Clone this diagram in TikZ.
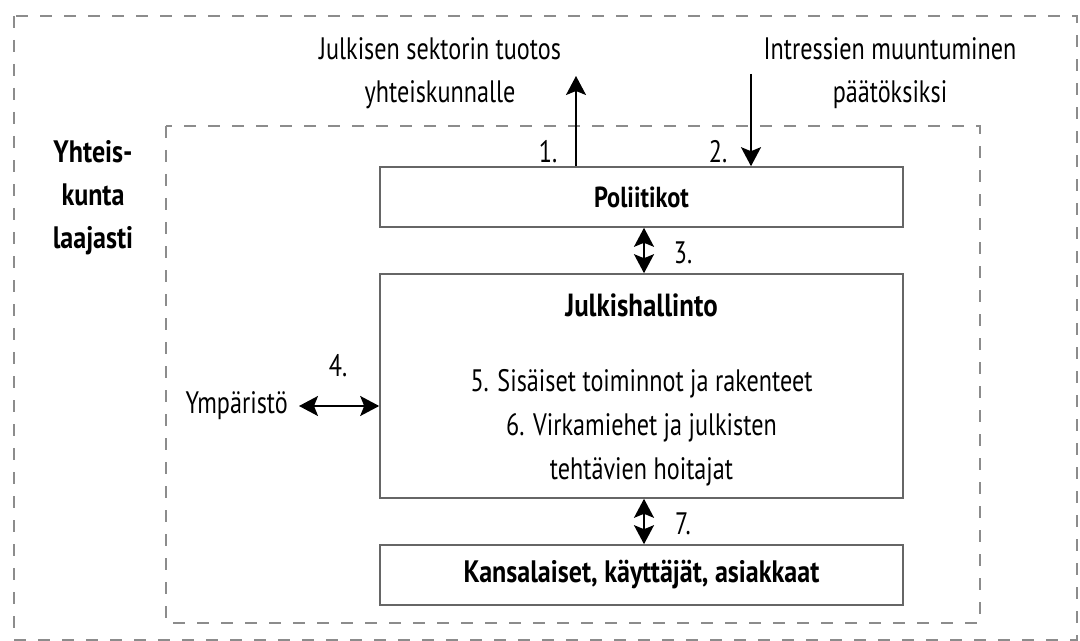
\documentclass[tikz,border=0pt]{standalone}
\usepackage{fontspec}
\setmainfont{PT Sans}[FakeStretch=0.78, BoldFeatures={FakeStretch=0.84}]
\usetikzlibrary{arrows.meta}
\begin{document}
\begin{tikzpicture}[x=1bp,y=-1bp,
  every node/.style={font=\fontsize{31bp}{43bp}\selectfont, inner sep=0pt},
  frame/.style={draw=black!45, line width=2bp, dash pattern=on 12bp off 12bp},
  block/.style={draw=black!60, line width=1.6bp, minimum width=523bp},
  head/.style={font=\fontsize{#1}{43bp}\selectfont\bfseries},
  tip/.tip={Stealth[length=19bp,width=20bp,inset=4bp]},
  flow/.style={line width=2bp, -tip},
  twoway/.style={line width=2bp, tip-tip}]
\useasboundingbox (0,0) rectangle (1080,641);
% society at large and the public sector
\draw[frame] (14,16) rectangle (1077,640);
\draw[frame] (166,126) rectangle (980,623);
% actors
\node[block, minimum height=60bp, head=29bp] (pol) at (641.5,197) {Poliitikot};
\node[block, minimum height=224bp] (jul) at (641.5,386) {};
\node[block, minimum height=60bp, head=31bp] (kan) at (641.5,575) {Kansalaiset, käyttäjät, asiakkaat};
\node[head=32bp] (julT) at (641.5,305) {Julkishallinto};
\node[align=center, font=\fontsize{31bp}{44bp}\selectfont] (julB) at (641.5,428) {5. Sisäiset toiminnot ja rakenteet\\6. Virkamiehet ja julkisten\\tehtävien hoitajat};
\node[align=center, head=31bp] (soc) at (93,198) {Yhteis-\\kunta\\laajasti};
\node[align=center] (out) at (440,73) {Julkisen sektorin tuotos\\yhteiskunnalle};
\node[align=center] (inp) at (890,73) {Intressien muuntuminen\\päätöksiksi};
\node[anchor=east] (ymp) at (288,406) {Ympäristö};
% arrow positions
\coordinate (a1) at (576,76);
\coordinate (a2) at (751,74);
\coordinate (a3) at (644,0);
\coordinate (a4) at (299,406);
% connectors
\draw[flow] (pol.north -| a1) -- (a1);
\draw[flow] (a2) -- (pol.north -| a2);
\draw[twoway] (pol.south -| a3) -- (jul.north -| a3);
\draw[twoway] (jul.south -| a3) -- (kan.north -| a3);
\draw[twoway] (a4) -- (jul.west |- a4);
% numbers
\node (n1) at (548,152) {1.};
\node (n2) at (718,152) {2.};
\node (n3) at (683,253) {3.};
\node (n4) at (338,366) {4.};
\node (n7) at (683,524) {7.};
\end{tikzpicture}
\end{document}
